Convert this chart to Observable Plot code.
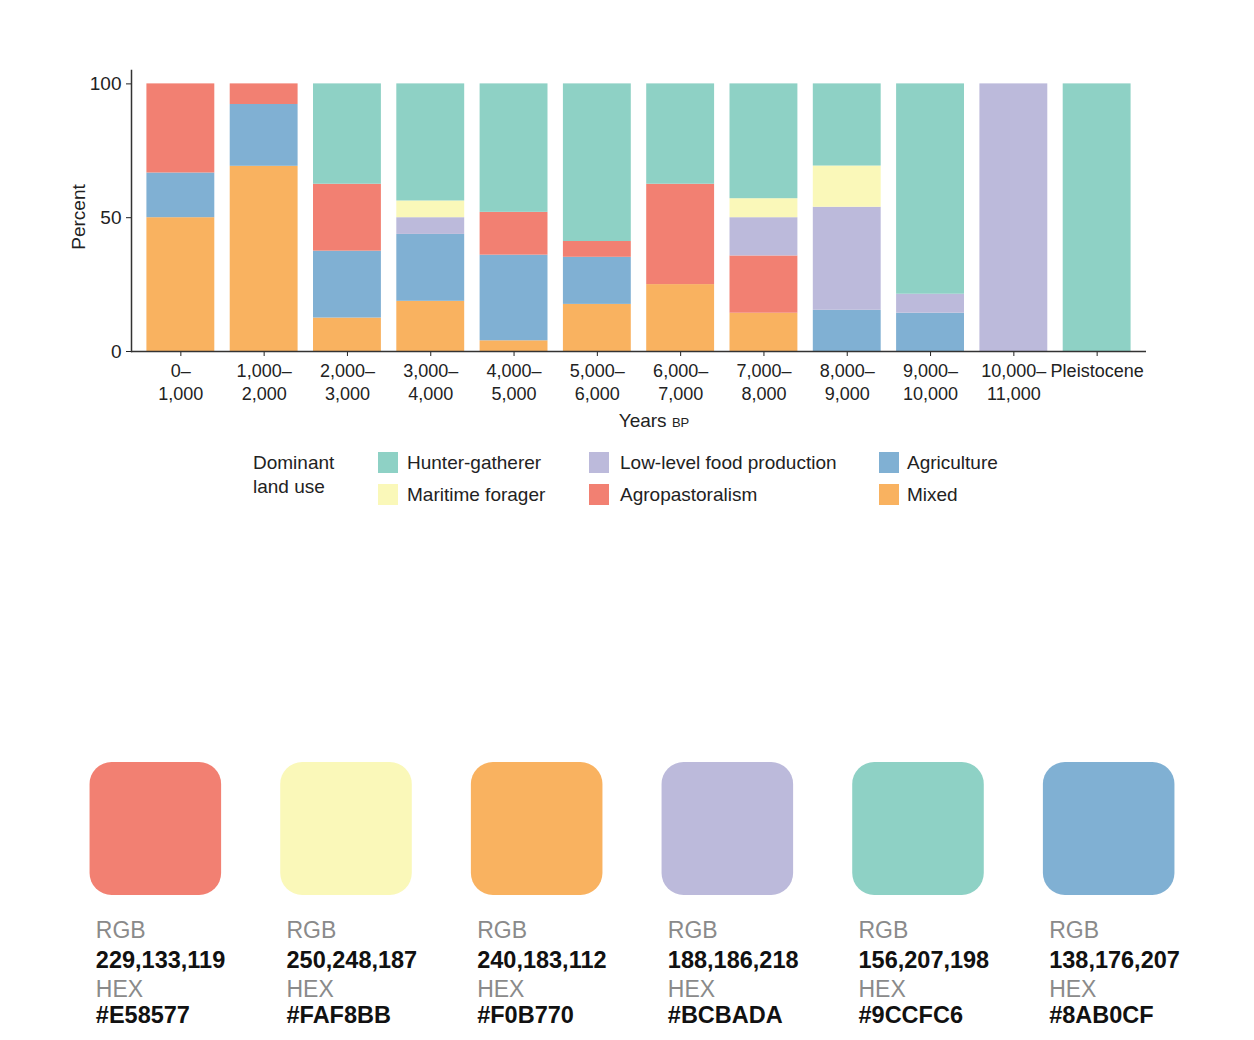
<!DOCTYPE html>
<html><head><meta charset="utf-8">
<script src="https://cdn.jsdelivr.net/npm/d3@7"></script>
<script src="https://cdn.jsdelivr.net/npm/@observablehq/plot@0.6"></script>
<style>
body{margin:0;background:#fff;font-family:"Liberation Sans",Arial,sans-serif;}
#page{position:relative;width:1254px;height:1040px;overflow:hidden;background:#fff;}
#chart{position:absolute;left:0;top:0;}
#legend{position:absolute;left:0;top:0;width:1254px;height:600px;}
.lg{position:absolute;font-size:19px;color:#222;line-height:1;white-space:nowrap;}
.sw{position:absolute;width:20px;height:21px;}
#swatches{position:absolute;left:0;top:740px;}
</style></head>
<body><div id="page"><div id="chart"></div><div id="legend"></div><div id="swatches"></div></div>
<script>
// ---- data ----
const periods = ["0–\n1,000","1,000–\n2,000","2,000–\n3,000","3,000–\n4,000","4,000–\n5,000","5,000–\n6,000","6,000–\n7,000","7,000–\n8,000","8,000–\n9,000","9,000–\n10,000","10,000–\n11,000","Pleistocene"];
const landUses = ["Mixed","Agriculture","Agropastoralism","Low-level food production","Maritime forager","Hunter-gatherer"];
const landUseColors = ["#F9B260","#80B0D3","#F28072","#BCBADB","#FAF8B9","#8ED1C5"];
const mixed           = [50, 69.2, 12.5, 18.75, 4, 17.6, 25, 14.3, 0, 0, 0, 0];
const agriculture     = [16.7, 23.1, 25, 25, 32, 17.6, 0, 0, 15.4, 14.3, 0, 0];
const agropastoralism = [33.3, 7.7, 25, 0, 16, 5.9, 37.5, 21.4, 0, 0, 0, 0];
const lowLevel        = [0, 0, 0, 6.25, 0, 0, 0, 14.3, 38.5, 7.1, 100, 0];
const maritime        = [0, 0, 0, 6.25, 0, 0, 0, 7.1, 15.4, 0, 0, 0];
const hunterGatherer  = [0, 0, 37.5, 43.75, 48, 58.9, 37.5, 42.9, 30.7, 78.6, 0, 100];
const yTicks = [0, 50, 100];
const legendColumns = [["Hunter-gatherer","Maritime forager"],["Low-level food production","Agropastoralism"],["Agriculture","Mixed"]];
const swatchHex = ["#E58577","#FAF8BB","#F0B770","#BCBADA","#9CCFC6","#8AB0CF"];
const swatchRgb = ["229,133,119","250,248,187","240,183,112","188,186,218","156,207,198","138,176,207"];
const swatchUse = ["Agropastoralism","Maritime forager","Mixed","Low-level food production","Hunter-gatherer","Agriculture"];

// ---- build table ----
const seriesByUse = {"Mixed": mixed, "Agriculture": agriculture, "Agropastoralism": agropastoralism,
  "Low-level food production": lowLevel, "Maritime forager": maritime, "Hunter-gatherer": hunterGatherer};
const rows = [];
periods.forEach((p, i) => landUses.forEach(u => {
  const v = seriesByUse[u][i];
  if (v > 0) rows.push({period: p, use: u, value: v});
}));

const FONT = "Liberation Sans, Arial, sans-serif";
const chart = Plot.plot({
  width: 1254, height: 440,
  marginTop: 70, marginBottom: 89, marginLeft: 131, marginRight: 108,
  style: {fontFamily: FONT, fontSize: "19px", color: "#222", background: "transparent"},
  x: {domain: periods, padding: 0.185, round: false, label: null},
  y: {domain: [0, 105], label: null},
  color: {domain: landUses, range: landUseColors},
  marks: [
    Plot.barY(rows, {x: "period", y: "value", fill: "use", order: landUses}),
    Plot.axisX({tickSize: 5, tickPadding: 5, lineHeight: 1.25, fontSize: 18, label: null}),
    Plot.axisY({ticks: yTicks, tickSize: 5, tickPadding: 5, label: null}),
    Plot.frame({anchor: "left", stroke: "#333", strokeWidth: 1.5}),
    Plot.ruleY([0], {stroke: "#333", strokeWidth: 1.5})
  ]
});
document.getElementById("chart").appendChild(chart);

const svg = d3.select(chart);
svg.append("text")
  .attr("transform", "translate(78,217) rotate(-90)")
  .attr("text-anchor", "middle").attr("dy", "0.35em")
  .attr("fill", "#222").style("font-size", "19px").text("Percent");
const yl = svg.append("text").attr("x", 654).attr("y", 420).attr("dy", "0.35em")
  .attr("text-anchor", "middle").attr("fill", "#222");
yl.append("tspan").style("font-size", "19px").text("Years ");
yl.append("tspan").style("font-size", "13px").text("BP");

// ---- legend ----
const legend = document.getElementById("legend");
function addText(txt, left, top) {
  const d = document.createElement("div");
  d.className = "lg"; d.style.left = left + "px"; d.style.top = top + "px"; d.textContent = txt;
  legend.appendChild(d);
}
addText("Dominant", 253, 453);
addText("land use", 253, 477);
const colSwatchX = [378, 589, 879];
const colTextX = [407, 620, 907];
const rowCenterY = [462, 494];
legendColumns.forEach((col, ci) => col.forEach((name, ri) => {
  const s = document.createElement("div");
  s.className = "sw";
  s.style.left = colSwatchX[ci] + "px";
  s.style.top = (rowCenterY[ri] - 10) + "px";
  s.style.background = landUseColors[landUses.indexOf(name)];
  legend.appendChild(s);
  addText(name, colTextX[ci], rowCenterY[ri] - 9.5);
}));

// ---- colour swatches ----
const swatchFill = swatchUse.map(u => landUseColors[landUses.indexOf(u)]);
const sw = Plot.plot({
  width: 1254, height: 300,
  marginTop: 22, marginBottom: 145, marginLeft: 60, marginRight: 50,
  style: {fontFamily: FONT, background: "transparent"},
  x: {domain: swatchHex, paddingInner: 0.31, paddingOuter: 0.155, round: false, axis: null},
  y: {domain: [0, 1], axis: null},
  color: {type: "identity"},
  marks: [
    Plot.barY(swatchHex, {x: d => d, y: () => 1, fill: (d, i) => swatchFill[i], rx: 22}),
    Plot.text(swatchHex, {x: d => d, frameAnchor: "bottom", lineAnchor: "middle", dy: 35, dx: -60, textAnchor: "start", text: () => "RGB", fill: "#8a8a8a", fontSize: 23}),
    Plot.text(swatchHex, {x: d => d, frameAnchor: "bottom", lineAnchor: "middle", dy: 65, dx: -60, textAnchor: "start", text: (d, i) => swatchRgb[i], fill: "#111", fontSize: 23.5, fontWeight: "bold"}),
    Plot.text(swatchHex, {x: d => d, frameAnchor: "bottom", lineAnchor: "middle", dy: 94, dx: -60, textAnchor: "start", text: () => "HEX", fill: "#8a8a8a", fontSize: 23}),
    Plot.text(swatchHex, {x: d => d, frameAnchor: "bottom", lineAnchor: "middle", dy: 120, dx: -60, textAnchor: "start", text: d => d, fill: "#111", fontSize: 23.5, fontWeight: "bold"})
  ]
});
document.getElementById("swatches").appendChild(sw);
</script>
</body></html>
